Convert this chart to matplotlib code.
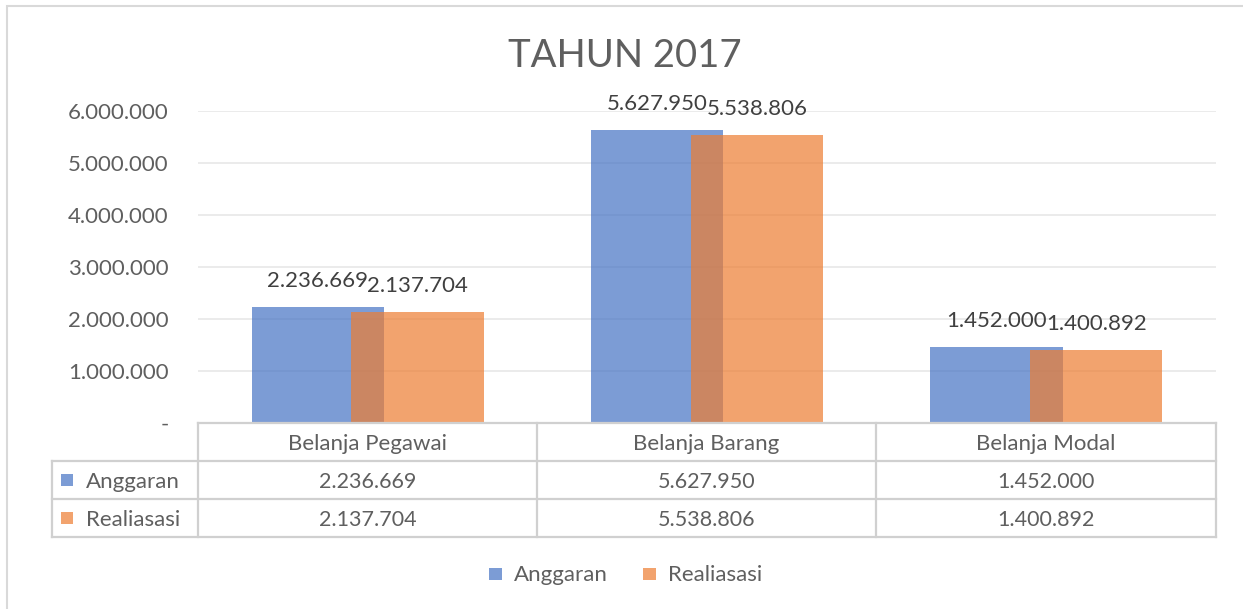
import numpy as np
import matplotlib.pyplot as plt
from matplotlib.patches import Rectangle
from matplotlib.lines import Line2D

# data
categories = ['Belanja Pegawai', 'Belanja Barang', 'Belanja Modal']
series_names = ['Anggaran', 'Realiasasi']
anggaran = [2236669, 5627950, 1452000]
realisasi = [2137704, 5538806, 1400892]
yticks = [0, 1000000, 2000000, 3000000, 4000000, 5000000, 6000000]

colors = ['#4472C4', '#ED7D31']
ALPHA = 0.7
TXT = '#5F5F5F'
GRID = '#E8E8E8'
FONT = 'Lato'

plt.rcParams['font.family'] = [FONT, 'DejaVu Sans']

W, H = 1243, 609
fig = plt.figure(figsize=(W / 100, H / 100), dpi=100)


def fx(px):
    return px / W


def fy(py):
    return 1 - py / H


def fmt(v):
    if v == 0:
        return '-'
    return f'{v:,.0f}'.replace(',', '.')


# outer frame of the chart
fig.add_artist(Rectangle((fx(7), fy(640)), fx(1260), 1 - 6 / H - fy(640),
                         transform=fig.transFigure, fill=False,
                         edgecolor='#D9D9D9', lw=1.5))

# plot area
left, right, top, bottom = 198, 1216, 111, 423
ax = fig.add_axes([fx(left), fy(bottom), fx(right - left), (bottom - top) / H])
ax.set_xlim(-0.5, 2.5)
ax.set_ylim(0, 6000000)

x = np.arange(len(categories))
bw = 0.39
off = 0.147
b1 = ax.bar(x - off, anggaran, bw, color=colors[0], alpha=ALPHA, lw=0, zorder=2)
b2 = ax.bar(x + off, realisasi, bw, color=colors[1], alpha=ALPHA, lw=0, zorder=3)

# ~20 px gap between bar top and label baseline
gap = 20 * 6000000 / (bottom - top)
for bars, vals in [(b1, anggaran), (b2, realisasi)]:
    for rect, v in zip(bars, vals):
        ax.text(rect.get_x() + rect.get_width() / 2, v + gap, fmt(v),
                ha='center', va='baseline', fontsize=16, color='#404040',
                clip_on=False, zorder=5)

ax.set_yticks(yticks)
ax.set_yticklabels([fmt(v) for v in yticks], fontsize=16, color=TXT)
ax.tick_params(axis='y', length=0, pad=21)
ax.set_xticks([])
ax.grid(axis='y', color=GRID, lw=1.2, zorder=0)
for s in ax.spines.values():
    s.set_visible(False)

fig.text(fx(625), fy(67), 'TAHUN 2017', ha='center', va='baseline',
         fontsize=27.5, color=TXT)

# data table under the plot
cols = [198, 537, 876, 1216]
rows = [423, 461, 499, 537]
tab_left = 52
lc = '#D0D0D0'


def hline(py, x0, x1):
    fig.add_artist(Line2D([fx(x0), fx(x1)], [fy(py), fy(py)],
                          transform=fig.transFigure, color=lc, lw=1.6))


def vline(px, y0, y1):
    fig.add_artist(Line2D([fx(px), fx(px)], [fy(y0), fy(y1)],
                          transform=fig.transFigure, color=lc, lw=1.6))


hline(rows[0], cols[0], cols[-1])
for r in rows[1:]:
    hline(r, tab_left, cols[-1])
vline(tab_left, rows[1], rows[-1])
for c in cols:
    vline(c, rows[0], rows[-1])

for i, cat in enumerate(categories):
    cx = (cols[i] + cols[i + 1]) / 2
    fig.text(fx(cx), fy((rows[0] + rows[1]) / 2 + 8), cat, ha='center',
             va='baseline', fontsize=16, color=TXT)

for j, (name, vals) in enumerate(zip(series_names, [anggaran, realisasi])):
    cy = (rows[j + 1] + rows[j + 2]) / 2
    fig.add_artist(Rectangle((fx(61), fy(cy + 6)), fx(12), 12 / H,
                             transform=fig.transFigure, color=colors[j],
                             alpha=ALPHA, lw=0))
    fig.text(fx(86), fy(cy + 8), name, ha='left', va='baseline', fontsize=16,
             color=TXT)
    for i, v in enumerate(vals):
        cx = (cols[i] + cols[i + 1]) / 2
        fig.text(fx(cx), fy(cy + 8.5), fmt(v), ha='center', va='baseline',
                 fontsize=15.5, color=TXT)

# legend
leg_x = [489, 643]
for j, name in enumerate(series_names):
    fig.add_artist(Rectangle((fx(leg_x[j]), fy(580)), fx(12.5), 12.5 / H,
                             transform=fig.transFigure, color=colors[j],
                             alpha=ALPHA, lw=0))
    fig.text(fx(leg_x[j] + 25), fy(581), name, ha='left', va='baseline',
             fontsize=16, color=TXT)

fig.savefig('out.png', dpi=100, facecolor='white')
